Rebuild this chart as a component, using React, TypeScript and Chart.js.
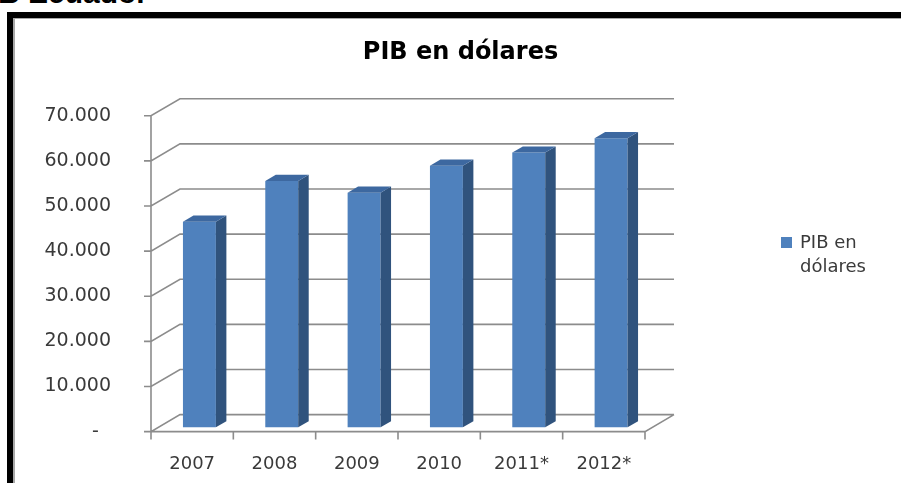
import React, { useEffect, useRef } from 'react';
import { Chart, registerables } from 'chart.js';

Chart.register(...registerables);

// ---- data ----
const categories = ['2007', '2008', '2009', '2010', '2011*', '2012*'];
const pibValues = [45600, 54600, 52000, 58000, 60900, 64100];
const seriesLabel = 'PIB en dólares';
const legendLines = ['PIB en', 'dólares'];
const chartTitle = 'PIB en dólares';
const pageHeading = 'B Ecuador';
const yTickValues = [0, 10000, 20000, 30000, 40000, 50000, 60000, 70000];
const yTickLabels = ['-  ', '10.000', '20.000', '30.000', '40.000', '50.000', '60.000', '70.000'];

// ---- style ----
const FONT = '"DejaVu Sans", "Liberation Sans", sans-serif';
const TEXT_COLOR = '#3a3a3a';
const GRID_COLOR = '#8c8c8c';
const FRONT_COLOR = '#4f81bd';
const SIDE_COLOR = '#30537d';
const TOP_COLOR = '#3d68a0';
const WALL_DX = 29;
const WALL_DY = -17;
const BAR_FRONT = 0.25;
const BAR_DX = 10.5;
const BAR_DY = -6.2;

const wall3d = {
  id: 'wall3d',
  beforeDatasetsDraw(chart: any) {
    const { ctx, chartArea, scales } = chart;
    const { left, right, bottom } = chartArea;
    const y = scales.y;
    const x = scales.x;
    ctx.save();
    ctx.strokeStyle = GRID_COLOR;
    ctx.lineWidth = 1.6;
    ctx.beginPath();
    const topPx = y.getPixelForValue(y.max);
    y.ticks.forEach((t: any) => {
      const py = y.getPixelForValue(t.value);
      ctx.moveTo(left - 7, py);
      ctx.lineTo(left, py);
      ctx.lineTo(left + WALL_DX, py + WALL_DY);
      ctx.lineTo(right + WALL_DX, py + WALL_DY);
    });
    // floor front edge and right edge
    ctx.moveTo(left, bottom);
    ctx.lineTo(right, bottom);
    ctx.lineTo(right + WALL_DX, bottom + WALL_DY);
    // front vertical axis
    ctx.moveTo(left, topPx);
    ctx.lineTo(left, bottom + 6);
    // category tick marks
    for (let i = 0; i <= categories.length; i++) {
      const px = x.getPixelForValue(i - 0.5);
      ctx.moveTo(px, bottom);
      ctx.lineTo(px, bottom + 8);
    }
    ctx.stroke();
    ctx.restore();

    // shift the bars back into the floor depth
    ctx.save();
    ctx.translate(WALL_DX * BAR_FRONT, WALL_DY * BAR_FRONT);
  },
  afterDatasetsDraw(chart: any) {
    const { ctx } = chart;
    ctx.restore();
    const meta = chart.getDatasetMeta(0);
    ctx.save();
    ctx.translate(WALL_DX * BAR_FRONT, WALL_DY * BAR_FRONT);
    meta.data.forEach((bar: any) => {
      const p = bar.getProps(['x', 'y', 'base', 'width'], true);
      const l = p.x - p.width / 2;
      const r = p.x + p.width / 2;
      const t = Math.min(p.y, p.base);
      const b = Math.max(p.y, p.base);
      // side face
      ctx.fillStyle = SIDE_COLOR;
      ctx.beginPath();
      ctx.moveTo(r, t);
      ctx.lineTo(r + BAR_DX, t + BAR_DY);
      ctx.lineTo(r + BAR_DX, b + BAR_DY);
      ctx.lineTo(r, b);
      ctx.closePath();
      ctx.fill();
      // top face
      ctx.fillStyle = TOP_COLOR;
      ctx.beginPath();
      ctx.moveTo(l, t);
      ctx.lineTo(l + BAR_DX, t + BAR_DY);
      ctx.lineTo(r + BAR_DX, t + BAR_DY);
      ctx.lineTo(r, t);
      ctx.closePath();
      ctx.fill();
    });
    ctx.restore();
  },
};

const sideLegend = {
  id: 'sideLegend',
  afterDraw(chart: any) {
    const { ctx, chartArea } = chart;
    const bx = chartArea.right + 136;
    const by = 237;
    ctx.save();
    ctx.fillStyle = chart.data.datasets[0].backgroundColor;
    ctx.fillRect(bx, by, 11, 11);
    ctx.fillStyle = TEXT_COLOR;
    ctx.font = `18px ${FONT}`;
    ctx.textAlign = 'left';
    ctx.textBaseline = 'middle';
    legendLines.forEach((line, i) => {
      ctx.fillText(line, bx + 19, by + 6 + i * 24);
    });
    ctx.restore();
  },
};

export default function App() {
  const ref = useRef<HTMLCanvasElement>(null);

  useEffect(() => {
    const canvas = ref.current as HTMLCanvasElement;
    const chart = new Chart(canvas, {
      type: 'bar',
      data: {
        labels: categories,
        datasets: [
          {
            label: seriesLabel,
            data: pibValues,
            backgroundColor: FRONT_COLOR,
            borderWidth: 0,
            barPercentage: 0.4,
            categoryPercentage: 1.0,
            clip: false as any,
          },
        ],
      },
      options: {
        responsive: false,
        animation: false,
        events: [],
        layout: { padding: { left: 40, right: 20, top: 0, bottom: 0 } },
        plugins: {
          legend: { display: false },
          tooltip: { enabled: false },
          title: {
            display: true,
            text: chartTitle,
            color: '#000',
            font: { family: FONT, size: 24, weight: 'bold' },
            padding: { top: 38, bottom: 49 },
          },
        },
        scales: {
          x: {
            type: 'category',
            grid: { display: false, drawTicks: false },
            border: { display: false },
            ticks: {
              color: TEXT_COLOR,
              font: { family: FONT, size: 18 },
              padding: 22,
              maxRotation: 0,
            },
            afterFit: (s: any) => {
              s.height = 51;
            },
          },
          y: {
            type: 'linear',
            min: 0,
            max: 70000,
            grid: { display: false, drawTicks: false },
            border: { display: false },
            ticks: {
              stepSize: 10000,
              color: TEXT_COLOR,
              font: { family: FONT, size: 19 },
              padding: 40,
              callback: (v: any) => {
                const i = yTickValues.indexOf(Number(v));
                return i >= 0 ? yTickLabels[i] : '';
              },
            },
            afterFit: (s: any) => {
              s.width = 111;
            },
          },
          yR: {
            type: 'linear',
            position: 'right',
            display: true,
            grid: { display: false, drawTicks: false },
            border: { display: false },
            ticks: { display: false },
            afterFit: (s: any) => {
              s.width = 236;
            },
          },
        },
      } as any,
      plugins: [wall3d, sideLegend],
    });
    return () => chart.destroy();
  }, []);

  return (
    <div
      style={{
        position: 'fixed',
        left: 0,
        top: 0,
        width: 901,
        height: 483,
        background: '#fff',
        overflow: 'hidden',
      }}
    >
      <div
        style={{
          position: 'absolute',
          left: -2,
          top: -22,
          fontFamily: '"Liberation Sans", Arial, sans-serif',
          fontWeight: 'bold',
          fontSize: 30,
          lineHeight: '30px',
          whiteSpace: 'nowrap',
          color: '#000',
        }}
      >
        {pageHeading}
      </div>
      <div
        style={{
          position: 'absolute',
          left: 7,
          top: 12,
          width: 1000,
          height: 600,
          borderLeft: '6px solid #000',
          borderTop: '6px solid #000',
        }}
      >
        <div
          style={{
            position: 'absolute',
            left: 0,
            top: 0,
            right: 0,
            bottom: 0,
            borderLeft: '2px solid #a8a8a8',
            borderTop: '1px solid #a8a8a8',
          }}
        />
      </div>
      <canvas
        ref={ref}
        width={901}
        height={483}
        style={{ position: 'absolute', left: 0, top: 0, width: 901, height: 483 }}
      />
    </div>
  );
}
